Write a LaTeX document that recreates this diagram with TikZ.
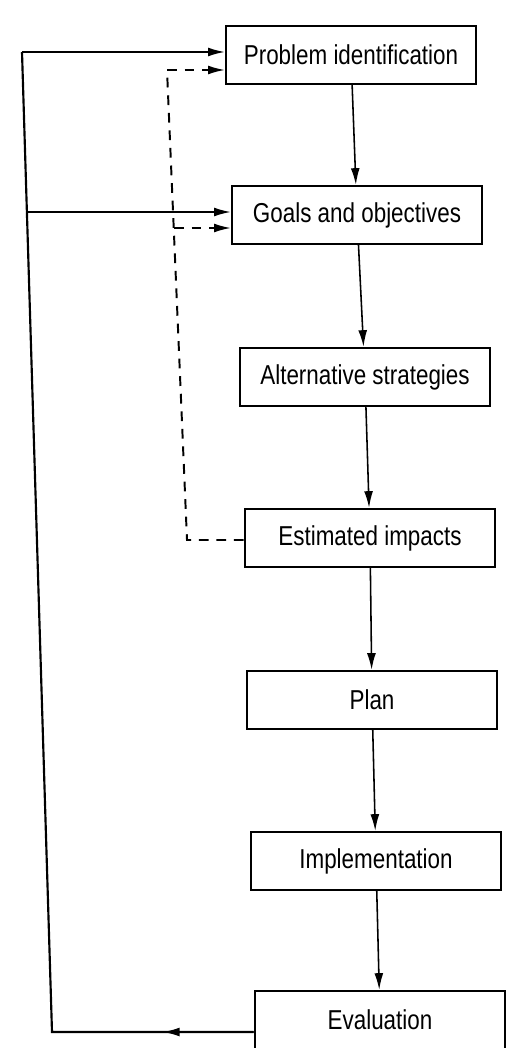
\documentclass[tikz,border=0pt]{standalone}
\usepackage{fontspec}
\setmainfont{Liberation Sans}[FakeStretch=0.82]
\usepackage{tikz}
\usetikzlibrary{arrows.meta,calc}

\begin{document}
\begin{tikzpicture}[x=0.18mm,y=-0.18mm,
	stage/.style={draw,line width=1.3pt,minimum width=4.5cm,minimum height=1.04cm,inner sep=0pt,font=\fontsize{14}{16}\selectfont},
	flow/.style={-{Latex[length=3mm,width=1.6mm]},line width=0.8pt},
	loop/.style={line width=1.1pt},
	back/.style={line width=1pt,dash pattern=on 5pt off 4pt}]
	\useasboundingbox (0,0) rectangle (528,1048);
	%\draw[help lines] (0,0) grid[step=50] (528,1048);
	\node[stage] (prob) at (351,55) {Problem identification};
	\node[stage] (goals) at (357,215) {Goals and objectives};
	\node[stage] (alt) at (365,377) {Alternative strategies};
	\node[stage] (est) at (370,538) {Estimated impacts};
	\node[stage] (plan) at (372,700) {Plan};
	\node[stage] (impl) at (376,861) {Implementation};
	\node[stage] (eval) at (380,1020) {Evaluation};

	\draw[flow](prob)--(goals);
	\draw[flow](goals)--(alt);
	\draw[flow](alt)--(est);
	\draw[flow](est)--(plan);
	\draw[flow](plan)--(impl);
	\draw[flow](impl)--(eval);

	% feedback from evaluation
	\coordinate (top) at (22,52);
	\coordinate (bot) at (52,1032);
	\coordinate (br) at (27,212);
	\draw[loop,flow](eval.west|-bot)--($(eval.west|-bot)!0.45!(bot)$);
	\draw[loop](eval.west|-bot)--(bot)--(top);
	\draw[loop,flow](top)--(top-|prob.west);
	\draw[loop,flow](br)--(br-|goals.west);

	% feedback from impacts
	\coordinate (dbot) at (187,540);
	\coordinate (dtop) at (167,70);
	\coordinate (dbr) at (174,228);
	\draw[back](est.west|-dbot)--(dbot)--(dtop);
	\draw[back,flow](dtop)--(dtop-|prob.west);
	\draw[back,flow](dbr)--(dbr-|goals.west);
\end{tikzpicture}
\end{document}
